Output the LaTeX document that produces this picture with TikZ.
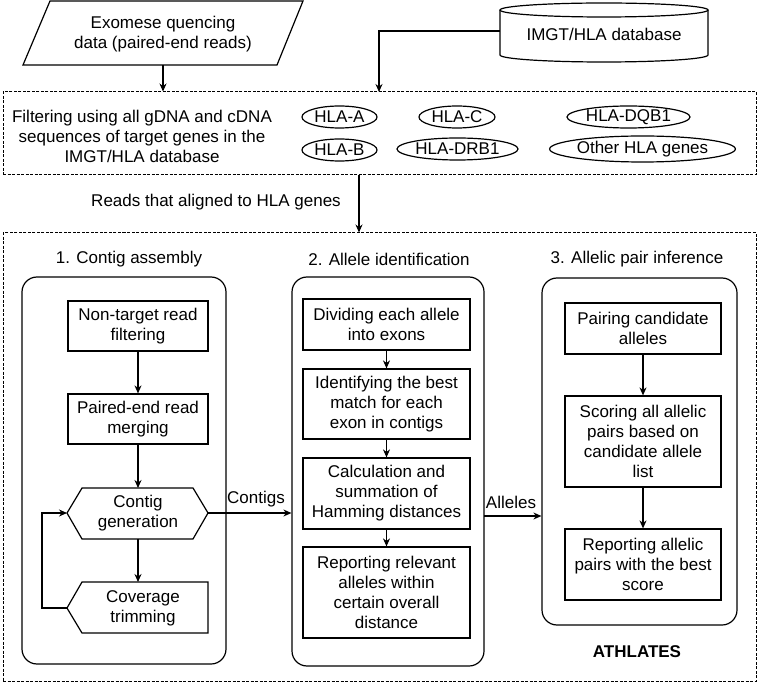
\documentclass[tikz,border=0pt]{standalone}
\usepackage{fontspec}
\setmainfont{Liberation Sans}
\usetikzlibrary{arrows.meta,shapes.geometric}
\begin{document}
\begin{tikzpicture}[x=1pt,y=-1pt,
  font=\fontsize{17}{20}\selectfont,
  line width=1.2pt,
  arr/.style={-{Stealth[length=8pt,width=7pt]}},
  proc/.style={draw, rectangle, align=center, inner sep=0pt},
  gene/.style={draw, ellipse, inner sep=0pt, minimum height=22pt},
  grp/.style={draw, rectangle, rounded corners=15pt, inner sep=0pt},
  dbox/.style={draw, rectangle, dash pattern=on 3pt off 1.5pt, line width=1pt, inner sep=0pt},
  lbl/.style={align=center, inner sep=0pt}]
\useasboundingbox (0,0) rectangle (760,684);

% top inputs
\node[lbl] (exo) at (163,34) {Exomese quencing\\data (paired-end reads)};
\draw (50,1) -- (303,1) -- (277,65) -- (23,65) -- cycle;
\coordinate (exob) at (163,65);

\node[lbl] (db) at (604,34) {IMGT/HLA database};
\draw (500,10) -- (500,55) arc[start angle=180,end angle=0,x radius=104,y radius=7] -- (708,10);
\draw (604,10) ellipse [x radius=104, y radius=7];
\coordinate (dbl) at (500,31);

% filtering box
\node[dbox, minimum width=753pt, minimum height=83pt] (filt) at (379.5,133.5) {};
\node[lbl] (ftext) at (142,136) {Filtering using all gDNA and cDNA\\sequences of target genes in the\\IMGT/HLA database};
\node[gene, minimum width=75pt] (hlaa) at (339.5,117) {HLA-A};
\node[gene, minimum width=75pt] (hlab) at (339.5,150) {HLA-B};
\node[gene, minimum width=76pt] (hlac) at (457,117) {HLA-C};
\node[gene, minimum width=121pt] (drb1) at (457.5,149) {HLA-DRB1};
\node[gene, minimum width=123pt] (dqb1) at (628.5,117) {HLA-DQB1};
\node[gene, minimum width=183pt, minimum height=26pt] (other) at (642.5,149) {Other HLA genes};

\coordinate (dbin) at (379,92);
\draw[arr] (exob) -- (exob |- filt.north);
\draw[arr] (dbl) -| (dbin);

% ATHLATES box
\node[dbox, minimum width=753pt, minimum height=448pt] (ath) at (379.5,457) {};
\coordinate (rs) at (359,175);
\draw[arr] (rs) -- (rs |- ath.north);
\node[lbl] (readslbl) at (216,202) {Reads that aligned to HLA genes};

% titles
\node[lbl] (t1) at (129,259) {1. Contig assembly};
\node[lbl] (t2) at (389,259) {2. Allele identification};
\node[lbl] (t3) at (637,259) {3. Allelic pair inference};

% group 1
\node[grp, minimum width=204pt, minimum height=387pt] (g1) at (124,470.5) {};
\node[proc, minimum width=140pt, minimum height=50pt] (a1) at (138,326) {Non-target read\\filtering};
\node[proc, minimum width=140pt, minimum height=50pt] (a2) at (138,419) {Paired-end read\\merging};
\node[lbl] (a3) at (138,513.5) {Contig\\generation};
\draw (67,513) -- (82,488) -- (193,488) -- (208,513) -- (193,539) -- (82,539) -- cycle;
\node[lbl] (a4) at (143,608) {Coverage\\trimming};
\draw (67,608) -- (82,582) -- (208,582) -- (208,633) -- (82,633) -- cycle;
\coordinate (a3n) at (138,488);
\coordinate (a3s) at (138,539);
\coordinate (a3w) at (67,513);
\coordinate (a3e) at (208,513);
\coordinate (a4n) at (138,582);
\coordinate (a4w) at (67,608);
\coordinate (loopx) at (42,608);
\draw[arr] (a1) -- (a2);
\draw[arr] (a2) -- (a3n);
\draw[arr] (a3s) -- (a4n);
\draw[arr] (a4w) -- (loopx) |- (a3w);

% group 2
\node[grp, minimum width=192pt, minimum height=389pt] (g2) at (388,471.5) {};
\node[proc, minimum width=167pt, minimum height=51pt] (b1) at (386.5,324.5) {Dividing each allele\\into exons};
\node[proc, minimum width=167pt, minimum height=70pt] (b2) at (386.5,404) {Identifying the best\\match for each\\exon in contigs};
\node[proc, minimum width=167pt, minimum height=71pt] (b3) at (386.5,493.5) {Calculation and\\summation of\\Hamming distances};
\node[proc, minimum width=167pt, minimum height=91pt] (b4) at (386.5,592.5) {Reporting relevant\\alleles within\\certain overall\\distance};
\draw[arr] (b1) -- (b2);
\draw[arr] (b2) -- (b3);
\draw[arr] (b3) -- (b4);

% group 3
\node[grp, minimum width=195pt, minimum height=347pt] (g3) at (639.5,451.5) {};
\node[proc, minimum width=156pt, minimum height=51pt] (c1) at (643,328.5) {Pairing candidate\\alleles};
\node[proc, minimum width=156pt, minimum height=91pt] (c2) at (643,441.5) {Scoring all allelic\\pairs based on\\candidate allele\\list};
\node[proc, minimum width=156pt, minimum height=71pt] (c3) at (643,564.5) {Reporting allelic\\pairs with the best\\score};
\draw[arr] (c1) -- (c2);
\draw[arr] (c2) -- (c3);

\node[lbl, font=\fontsize{17}{20}\selectfont\bfseries] (athl) at (637,652) {ATHLATES};

% connections between groups
\draw[arr] (a3e) -- (a3e -| g2.west);
\node[lbl] (contigs) at (256,499) {Contigs};
\coordinate (g2e) at (484,516);
\draw[arr] (g2e) -- (g2e -| g3.west);
\node[lbl] (alleles) at (511,502) {Alleles};
\end{tikzpicture}
\end{document}
